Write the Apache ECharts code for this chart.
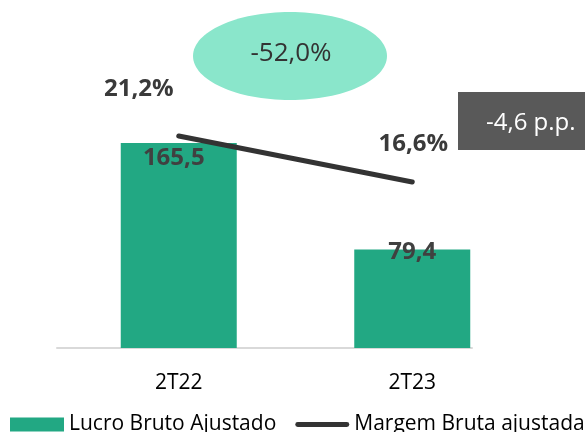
<!DOCTYPE html>
<html>
<head>
<meta charset="utf-8">
<script src="https://cdn.jsdelivr.net/npm/echarts@6/dist/echarts.min.js"></script>
<style>
  html, body { margin: 0; padding: 0; background: #fff; }
  #chart { width: 585px; height: 432px; }
</style>
</head>
<body>
<div id="chart"></div>
<script>
// dados do gráfico
const categories = ['2T22', '2T23'];
const lucroBruto = [165.5, 79.4];      // Lucro Bruto Ajustado
const margemBruta = [21.2, 16.6];      // Margem Bruta ajustada (%)
const variacaoLucro = '-52,0%';
const variacaoMargem = '-4,6 p.p.';

// ajustes finos dos rótulos
const barLabelOffsets = [[-5, -2], [0, -14]];
const lineLabelOffsets = [[-40, -29], [1, -20]];

const fmt = v => v.toFixed(1).replace('.', ',');
const FONT = 'Open Sans';

const chart = echarts.init(document.getElementById('chart'));

const option = {
  animation: false,
  textStyle: { fontFamily: FONT },
  grid: [
    { left: 62, right: 56, top: 1, bottom: 84 },
    // só para a linha do eixo
    { left: 57, width: 415, top: 1, bottom: 84 }
  ],
  legend: {
    left: 10,
    top: 414,
    padding: 0,
    itemWidth: 54,
    itemHeight: 14,
    itemGap: 19,
    textStyle: { fontSize: 21, color: '#000', fontFamily: FONT },
    data: [
      { name: 'Lucro Bruto Ajustado', icon: 'rect' },
      {
        name: 'Margem Bruta ajustada',
        icon: 'path://M2.5,0 L53.5,0 A2.5,2.5 0 0 1 53.5,5 L2.5,5 A2.5,2.5 0 0 1 2.5,0 Z',
        itemStyle: { color: '#333333' }
      }
    ]
  },
  xAxis: [
    {
      type: 'category',
      gridIndex: 0,
      data: categories,
      axisLine: { show: false },
      axisTick: { show: false },
      axisLabel: { fontSize: 21, color: '#000', margin: 25, fontFamily: FONT }
    },
    {
      type: 'value',
      gridIndex: 1,
      min: 0,
      max: 1,
      axisLine: { show: true, onZero: false, lineStyle: { color: '#d9d9d9', width: 2 } },
      axisTick: { show: false },
      axisLabel: { show: false },
      splitLine: { show: false }
    }
  ],
  yAxis: [
    { type: 'value', gridIndex: 0, min: 0, max: 280, show: false },
    { type: 'value', gridIndex: 0, min: 0, max: 34.7, show: false },
    { type: 'value', gridIndex: 1, min: 0, max: 1, show: false }
  ],
  series: [
    {
      name: 'Lucro Bruto Ajustado',
      type: 'bar',
      xAxisIndex: 0,
      yAxisIndex: 0,
      barWidth: 116,
      itemStyle: { color: '#22a883' },
      label: {
        show: true,
        position: 'insideTop',
        fontSize: 24,
        fontWeight: 'bold',
        color: '#404040',
        fontFamily: FONT,
        formatter: p => fmt(p.value)
      },
      data: lucroBruto.map((v, i) => ({ value: v, label: { offset: barLabelOffsets[i] } }))
    },
    {
      name: 'Margem Bruta ajustada',
      type: 'line',
      xAxisIndex: 0,
      yAxisIndex: 1,
      symbol: 'circle',
      symbolSize: 1,
      showSymbol: true,
      lineStyle: { color: '#333333', width: 5, cap: 'round' },
      itemStyle: { color: '#333333' },
      label: {
        show: true,
        position: 'top',
        fontSize: 24,
        fontWeight: 'bold',
        color: '#3a3a3a',
        fontFamily: FONT,
        formatter: p => fmt(p.value) + '%'
      },
      data: margemBruta.map((v, i) => ({ value: v, label: { offset: lineLabelOffsets[i] } }))
    }
  ],
  graphic: [
    {
      type: 'ellipse',
      shape: { cx: 290, cy: 56, rx: 97, ry: 44 },
      style: { fill: '#8ae6cb' },
      z: 10
    },
    {
      type: 'text',
      x: 291,
      y: 54,
      z: 11,
      style: {
        text: variacaoLucro,
        fill: '#333',
        font: '26px "Open Sans"',
        align: 'center',
        verticalAlign: 'middle'
      }
    },
    {
      type: 'rect',
      shape: { x: 458, y: 92, width: 140, height: 58 },
      style: { fill: '#595959' },
      z: 10
    },
    {
      type: 'text',
      x: 486,
      y: 123,
      z: 11,
      style: {
        text: variacaoMargem,
        fill: '#fff',
        font: '24px "Open Sans"',
        align: 'left',
        verticalAlign: 'middle'
      }
    }
  ]
};

chart.setOption(option);
</script>
</body>
</html>
